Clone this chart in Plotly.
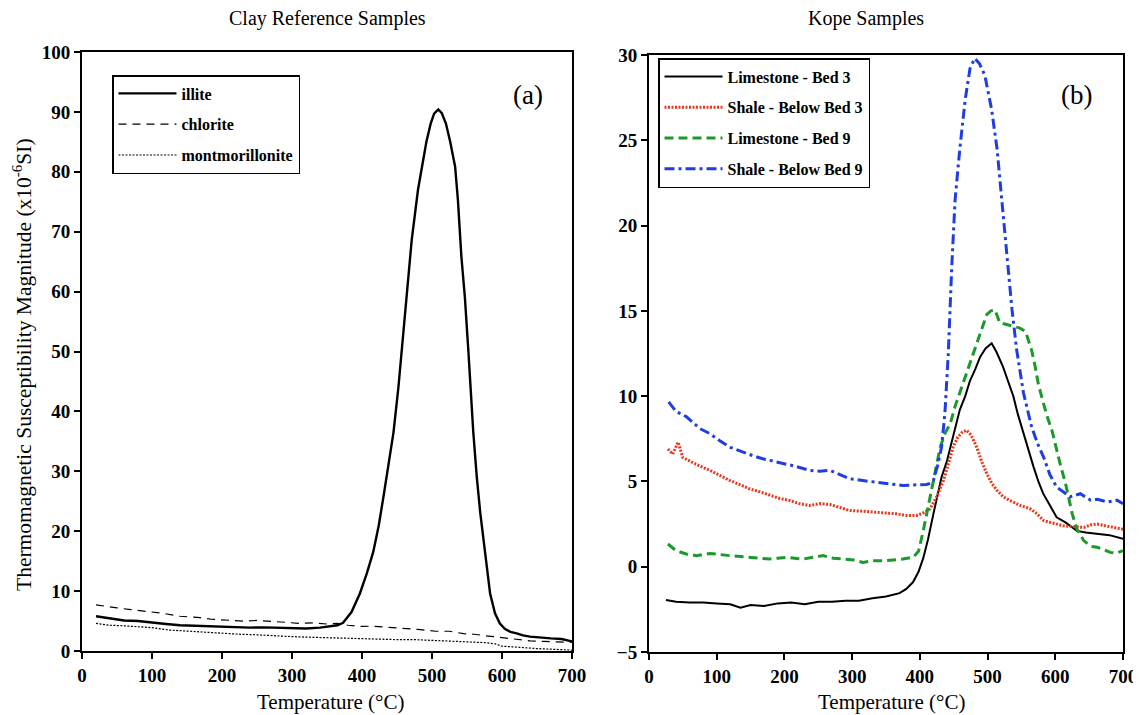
import plotly.graph_objects as go

# ---------------- Panel (a): Clay reference samples ----------------
illite_T = [20, 40, 60, 80, 100, 120, 140, 160, 180, 200, 220, 240, 260, 280, 300, 320, 340, 355, 365,
            373, 385, 397, 407, 416, 424, 431, 438, 445, 452, 457, 464, 471, 480, 486, 492, 498, 503, 509,
            514, 520, 526, 533, 537, 542, 547, 552, 559, 564, 569, 576, 583, 590, 597, 604, 612, 621, 630,
            640, 655, 670, 685, 700]
illite_v = [5.8, 5.4, 5.1, 5.0, 4.7, 4.5, 4.3, 4.2, 4.1, 4.05, 4.0, 3.9, 3.95, 3.85, 3.8, 3.75, 3.9, 4.1, 4.3,
            4.7, 6.5, 9.6, 13.0, 16.5, 21.0, 26.0, 31.0, 36.5, 44.0, 50.5, 59.0, 68.6, 77.0, 81.0, 85.0, 88.0,
            89.7, 90.4, 89.8, 88.0, 85.0, 80.9, 75.3, 65.8, 59.0, 50.0, 36.5, 29.0, 23.0, 16.3, 9.6, 6.3, 4.6,
            3.7, 3.2, 2.95, 2.6, 2.4, 2.2, 2.1, 2.0, 1.6]

chlorite_T = [20, 35, 50, 70, 95, 115, 140, 165, 185, 210, 230, 250, 270, 290, 310, 330, 350, 365, 380, 400,
              415, 435, 460, 480, 505, 525, 545, 560, 580, 600, 620, 640, 660, 680, 700]
chlorite_v = [7.7, 7.4, 7.2, 6.9, 6.6, 6.3, 5.8, 5.6, 5.3, 5.2, 5.0, 5.1, 5.0, 4.8, 4.6, 4.7, 4.5, 4.6, 4.3,
              4.1, 4.15, 4.0, 3.8, 3.6, 3.3, 3.3, 2.9, 2.8, 2.5, 2.2, 1.9, 1.7, 1.6, 1.5, 1.45]

montm_T = [20, 40, 60, 80, 100, 125, 150, 175, 200, 225, 250, 275, 300, 325, 350, 375, 400, 425, 450, 475,
           500, 525, 550, 575, 590, 600, 615, 630, 650, 670, 690, 700]
montm_v = [4.6, 4.3, 4.2, 4.0, 3.9, 3.5, 3.3, 3.1, 2.9, 2.8, 2.7, 2.5, 2.4, 2.3, 2.2, 2.2, 2.1, 2.0, 1.9, 1.9,
           1.8, 1.7, 1.6, 1.4, 1.2, 0.8, 0.7, 0.55, 0.4, 0.3, 0.2, 0.15]

# ---------------- Panel (b): Kope samples ----------------
lime3_T = [25, 40, 60, 80, 100, 120, 135, 150, 170, 190, 210, 230, 250, 270, 290, 310, 330, 350, 370, 380,
           390, 398, 405, 412, 420, 432, 440, 450, 459, 467, 474, 482, 489, 497, 506, 513, 523, 530, 538,
           545, 553, 561, 568, 575, 582, 592, 602, 615, 632, 645, 661, 680, 700]
lime3_v = [-1.95, -2.05, -2.1, -2.1, -2.15, -2.2, -2.4, -2.25, -2.3, -2.15, -2.1, -2.2, -2.05, -2.05, -2.0,
           -2.0, -1.85, -1.75, -1.55, -1.3, -0.9, -0.3, 0.5, 1.6, 3.1, 5.25, 6.2, 7.8, 9.2, 10.0, 10.9, 11.6,
           12.3, 12.8, 13.1, 12.6, 11.7, 10.9, 10.0, 8.9, 7.8, 6.8, 5.84, 5.0, 4.3, 3.6, 2.9, 2.6, 2.1, 2.0,
           1.92, 1.85, 1.63]

shale3_T = [28, 35, 43, 50, 60, 75, 90, 105, 119, 135, 148, 163, 178, 193, 208, 222, 237, 252, 267, 282, 296,
            316, 336, 351, 366, 381, 395, 405, 415, 425, 435, 442, 449, 456, 463, 469, 476, 484, 491, 499,
            506, 514, 523, 533, 548, 563, 573, 583, 597, 612, 627, 642, 652, 662, 680, 700]
shale3_v = [6.9, 6.6, 7.3, 6.4, 6.2, 5.9, 5.65, 5.35, 5.06, 4.8, 4.57, 4.4, 4.18, 4.0, 3.88, 3.7, 3.59, 3.7,
            3.65, 3.45, 3.3, 3.25, 3.2, 3.15, 3.1, 3.0, 3.0, 3.15, 3.4, 4.1, 5.06, 6.0, 7.0, 7.6, 7.9, 8.0,
            7.7, 7.0, 6.2, 5.45, 4.9, 4.47, 4.1, 3.88, 3.6, 3.4, 3.1, 2.7, 2.55, 2.4, 2.35, 2.3, 2.45, 2.5,
            2.35, 2.2]

lime9_T = [28, 40, 55, 70, 90, 105, 119, 135, 148, 163, 178, 190, 203, 215, 228, 242, 257, 272, 287, 302,
           316, 331, 346, 360, 375, 390, 398, 405, 411, 418, 425, 430, 437, 445, 452, 459, 467, 474, 481,
           489, 495, 499, 505, 511, 518, 528, 538, 547, 556, 565, 570, 575, 581, 588, 595, 602, 608, 615,
           620, 625, 632, 642, 652, 662, 672, 681, 690, 700]
lime9_v = [1.33, 0.94, 0.75, 0.65, 0.78, 0.7, 0.65, 0.6, 0.55, 0.5, 0.45, 0.5, 0.55, 0.5, 0.45, 0.55, 0.65,
           0.5, 0.45, 0.4, 0.25, 0.35, 0.35, 0.4, 0.45, 0.55, 0.9, 2.1, 3.3, 4.67, 6.0, 7.0, 7.8, 8.4, 9.4,
           10.2, 11.1, 11.9, 12.8, 13.7, 14.3, 14.8, 15.0, 15.06, 14.3, 14.2, 14.1, 14.0, 13.8, 12.7, 11.8,
           10.7, 9.8, 8.8, 8.0, 6.8, 5.9, 4.9, 4.0, 3.1, 2.2, 1.53, 1.2, 1.14, 1.0, 0.84, 0.8, 0.94]

shale9_T = [29, 40, 55, 75, 90, 104, 120, 139, 154, 168, 183, 198, 215, 237, 252, 267, 282, 296, 316, 336,
            356, 375, 395, 410, 416, 420, 426, 432, 437, 442, 447, 452, 459, 467, 474, 481, 488, 496, 506,
            514, 521, 528, 536, 543, 553, 565, 574, 583, 592, 602, 612, 622, 637, 652, 662, 677, 691, 700]
shale9_v = [9.66, 9.1, 8.8, 8.1, 7.8, 7.4, 7.0, 6.7, 6.5, 6.33, 6.2, 6.04, 5.9, 5.65, 5.6, 5.65, 5.4, 5.16,
            5.05, 4.96, 4.85, 4.76, 4.8, 4.82, 4.9, 5.06, 5.9, 7.0, 9.0, 12.5, 17.5, 21.5, 24.5, 27.4, 29.2,
            29.8, 29.5, 28.8, 26.8, 24.5, 21.5, 18.6, 15.1, 12.7, 10.2, 8.2, 7.2, 6.4, 5.4, 4.67, 4.4, 4.1,
            4.28, 3.9, 3.95, 3.8, 3.9, 3.7]

x_ticks = [0, 100, 200, 300, 400, 500, 600, 700]
y_ticks_a = [0, 10, 20, 30, 40, 50, 60, 70, 80, 90, 100]
y_ticks_b = [-5, 0, 5, 10, 15, 20, 25, 30]

SERIF = "Liberation Serif, Times New Roman, serif"
OFF = 8  # page body margin
W, H = 1141 - OFF, 715 - OFF


def fx(px):
    return (px - OFF) / W


def fy(py):
    return 1 - (py - OFF) / H


fig = go.Figure()

# panel (a)
fig.add_trace(go.Scatter(x=illite_T, y=illite_v, mode="lines", name="illite",
                         line=dict(color="black", width=2.4), xaxis="x", yaxis="y",
                         legend="legend", legendgroup="a1"))
fig.add_trace(go.Scatter(x=chlorite_T, y=chlorite_v, mode="lines", name="chlorite",
                         line=dict(color="black", width=1.2, dash="8px,6px"), xaxis="x", yaxis="y",
                         legend="legend", legendgroup="a2"))
fig.add_trace(go.Scatter(x=montm_T, y=montm_v, mode="lines", name="montmorillonite",
                         line=dict(color="black", width=1.2, dash="2px,1.5px"), xaxis="x", yaxis="y",
                         legend="legend", legendgroup="a3"))

# panel (b)
fig.add_trace(go.Scatter(x=lime3_T, y=lime3_v, mode="lines", name="Limestone - Bed 3",
                         line=dict(color="black", width=2), xaxis="x2", yaxis="y2",
                         legend="legend2", legendgroup="b1"))
fig.add_trace(go.Scatter(x=shale3_T, y=shale3_v, mode="lines", name="Shale - Below Bed 3",
                         line=dict(color="#e8381e", width=3, dash="2px,1.5px"), xaxis="x2", yaxis="y2",
                         legend="legend2", legendgroup="b2"))
fig.add_trace(go.Scatter(x=lime9_T, y=lime9_v, mode="lines", name="Limestone - Bed 9",
                         line=dict(color="#1b9a2a", width=3, dash="9px,5px"), xaxis="x2", yaxis="y2",
                         legend="legend2", legendgroup="b3"))
fig.add_trace(go.Scatter(x=shale9_T, y=shale9_v, mode="lines", name="Shale - Below Bed 9",
                         line=dict(color="#1f3de0", width=3, dash="10px,4px,3px,4px"), xaxis="x2",
                         yaxis="y2", legend="legend2", legendgroup="b4"))

axis_common = dict(showline=True, linecolor="black", linewidth=2, mirror=True, ticks="outside",
                   ticklen=6, tickwidth=2, tickcolor="black", showgrid=False, zeroline=False,
                   automargin=False,
                   tickfont=dict(family=SERIF, size=19, color="black", weight="bold"))

legend_common = dict(xanchor="left", yanchor="top", bordercolor="black", borderwidth=1.5, bgcolor="white",
                     font=dict(family=SERIF, size=16, color="black", weight="bold"),
                     itemwidth=58, tracegroupgap=7, traceorder="grouped")

fig.update_layout(
    width=W, height=H,
    margin=dict(l=0, r=0, t=0, b=0),
    paper_bgcolor="white", plot_bgcolor="white",
    xaxis=dict(domain=[fx(82), fx(572)], range=[0, 700], tickvals=x_ticks, anchor="y", **axis_common),
    yaxis=dict(domain=[fy(651), fy(52)], range=[0, 100], tickvals=y_ticks_a, anchor="x", **axis_common),
    xaxis2=dict(domain=[fx(649), fx(1123)], range=[0, 700], tickvals=x_ticks, anchor="y2", **axis_common),
    yaxis2=dict(domain=[fy(652), fy(55)], range=[-5, 30], tickvals=y_ticks_b, anchor="x2", **axis_common),
    legend=dict(x=fx(112), y=fy(75), **legend_common),
    legend2=dict(x=fx(658), y=fy(58), **legend_common),
)

ann_font = dict(family=SERIF, color="black")
annotations = [
    dict(text="Clay Reference Samples", x=fx(327), y=fy(18), font=dict(size=20, **ann_font)),
    dict(text="Kope Samples", x=fx(866), y=fy(18), font=dict(size=20, **ann_font)),
    dict(text="Temperature (°C)", x=fx(330), y=fy(702), font=dict(size=21, **ann_font)),
    dict(text="Temperature (°C)", x=fx(891), y=fy(702), font=dict(size=21, **ann_font)),
    dict(text="(a)", x=fx(528), y=fy(95), font=dict(size=27, **ann_font)),
    dict(text="(b)", x=fx(1076), y=fy(95), font=dict(size=27, **ann_font)),
    dict(text="Thermomagnetic Susceptibility Magnitude (x10<sup>-6</sup>SI)", x=fx(22), y=fy(365),
         textangle=-90, font=dict(size=21.5, **ann_font)),
]
for a in annotations:
    fig.add_annotation(xref="paper", yref="paper", showarrow=False, xanchor="center", yanchor="middle", **a)

fig.write_html("out.html")
